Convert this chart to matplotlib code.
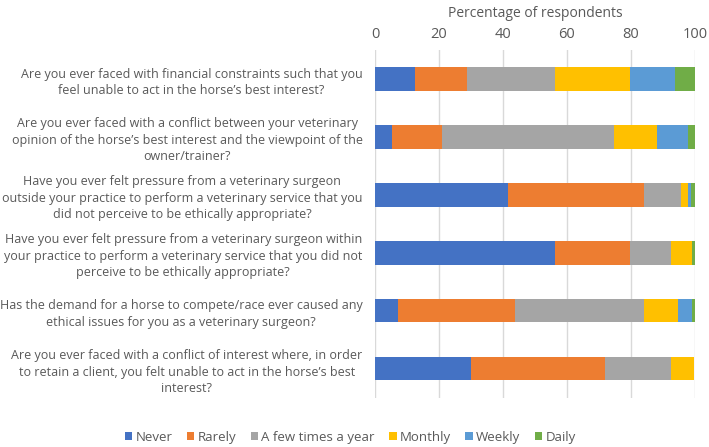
import numpy as np
import matplotlib
matplotlib.use("Agg")
import matplotlib.pyplot as plt

plt.rcParams['font.family'] = ['Open Sans', 'DejaVu Sans']

questions = [
    "Are you ever faced with financial constraints such that you\nfeel unable to act in the horse\u2019s best interest?",
    "Are you ever faced with a conflict between your veterinary\nopinion of the horse\u2019s best interest and the viewpoint of the\nowner/trainer?",
    "Have you ever felt pressure from a veterinary surgeon\noutside your practice to perform a veterinary service that you\ndid not perceive to be ethically appropriate?",
    "Have you ever felt pressure from a veterinary surgeon within\nyour practice to perform a veterinary service that you did not\nperceive to be ethically appropriate?",
    "Has the demand for a horse to compete/race ever caused any\nethical issues for you as a veterinary surgeon?",
    "Are you ever faced with a conflict of interest where, in order\nto retain a client, you felt unable to act in the horse\u2019s best\ninterest?",
]

categories = ["Never", "Rarely", "A few times a year", "Monthly", "Weekly", "Daily"]
never = [12.6, 5.2, 41.5, 56.4, 7.1, 30.0]
rarely = [16.0, 15.7, 42.6, 23.3, 36.7, 41.9]
few_times = [27.7, 53.8, 11.6, 12.8, 40.4, 20.6]
monthly = [23.5, 13.6, 2.3, 6.6, 10.6, 7.3]
weekly = [13.9, 9.6, 0.8, 0.0, 4.3, 0.0]
daily = [6.3, 2.1, 1.2, 0.9, 0.9, 0.0]

colors = ["#4472C4", "#ED7D31", "#A5A5A5", "#FFC000", "#5B9BD5", "#70AD47"]
text_col = "#595959"

fig = plt.figure(figsize=(7.09, 4.47), dpi=100)
ax = fig.add_axes([0.529, 0.110, 0.451, 0.778])

y = np.arange(len(questions))
left = np.zeros(len(questions))
for vals, name, c in zip([never, rarely, few_times, monthly, weekly, daily], categories, colors):
    ax.barh(y, vals, left=left, height=0.4, color=c, label=name, zorder=2)
    left += np.array(vals)

ax.set_xlim(0, 100)
ax.set_ylim(len(questions) - 0.5, -0.5)
ax.set_xticks(np.arange(0, 101, 20))
ax.xaxis.tick_top()
ax.xaxis.set_label_position('top')
ax.set_xlabel("Percentage of respondents", fontsize=10, color=text_col, labelpad=7)
ax.set_yticks(y)
ax.set_yticklabels(questions, fontsize=9, color=text_col, multialignment='center', linespacing=1.35)
ax.tick_params(axis='x', length=0, labelsize=10.5, labelcolor=text_col, pad=6)
ax.tick_params(axis='y', length=0, pad=9)
ax.grid(axis='x', color='#d9d9d9', linewidth=1, zorder=0)
for s in ax.spines.values():
    s.set_visible(False)

fig.legend(loc='lower center', bbox_to_anchor=(0.494, -0.02), ncol=6, frameon=False,
           fontsize=9.5, labelcolor=text_col, handlelength=0.55, handleheight=0.55,
           handletextpad=0.25, columnspacing=1.1)

fig.savefig("out.png", dpi=100)
